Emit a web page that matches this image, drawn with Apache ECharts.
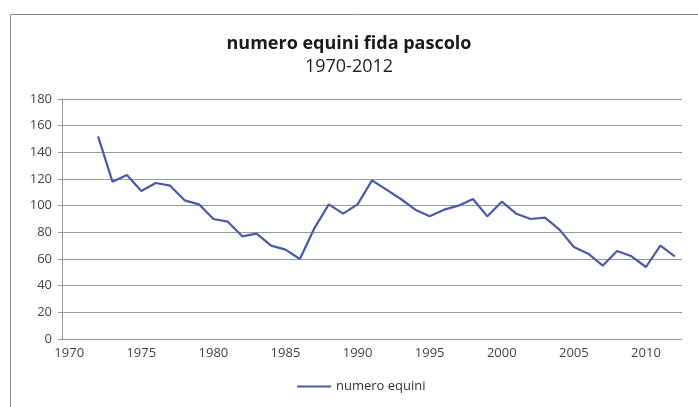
<!DOCTYPE html>
<html>
<head>
<meta charset="utf-8">
<script src="https://cdn.jsdelivr.net/npm/echarts@6/dist/echarts.min.js"></script>
<style>
html, body { margin: 0; padding: 0; background: #fff; }
#main { width: 698px; height: 407px; }
</style>
</head>
<body>
<div id="main"></div>
<script>
// anni 1970-2012, primi due senza dati
var years = [];
for (var y = 1970; y <= 2012; y++) years.push(String(y));

var equini = [null, null,
    152, 118, 123, 111, 117, 115, 104, 101, 90,
    88, 77, 79, 70, 67, 60, 83, 101, 94, 101,
    119, 112, 105, 97, 92, 97, 100, 105, 92, 103,
    94, 90, 91, 82, 69, 64, 55, 66, 62, 54,
    70, 62];

var yTicks = { min: 0, max: 180, interval: 20 };

var font = '"Open Sans", "Liberation Sans", sans-serif';

var myChart = echarts.init(document.getElementById('main'));

myChart.setOption({
    backgroundColor: '#fff',
    animation: false,
    title: {
        text: 'numero equini fida pascolo',
        subtext: '1970-2012',
        left: 'center',
        top: 30,
        itemGap: 5,
        textStyle: { fontFamily: font, fontSize: 18, fontWeight: 'bold', color: '#1a1a1a' },
        subtextStyle: { fontFamily: font, fontSize: 18, color: '#222' }
    },
    legend: {
        bottom: 9,
        left: 292,
        itemWidth: 34,
        itemHeight: 2,
        itemGap: 4,
        icon: 'rect',
        textStyle: { fontFamily: font, fontSize: 13, color: '#333' },
        data: ['numero equini']
    },
    graphic: [{
        type: 'rect',
        shape: { x: 10.5, y: 14.5, width: 720, height: 420 },
        style: { fill: null, stroke: '#888', lineWidth: 1 }
    }],
    grid: { left: 62, right: 16, top: 99, bottom: 68 },
    xAxis: {
        type: 'category',
        data: years,
        boundaryGap: true,
        axisLine: { lineStyle: { color: '#999' } },
        axisTick: { interval: 0, length: 4, lineStyle: { color: '#999' } },
        axisLabel: { interval: 4, fontFamily: font, fontSize: 13, color: '#444', margin: 8 }
    },
    yAxis: {
        type: 'value',
        min: yTicks.min,
        max: yTicks.max,
        interval: yTicks.interval,
        axisLine: { show: true, lineStyle: { color: '#999' } },
        axisTick: { show: true, length: 4, lineStyle: { color: '#999' } },
        axisLabel: { fontFamily: font, fontSize: 13, color: '#444', margin: 10 },
        splitLine: { lineStyle: { color: '#999', width: 1 } }
    },
    series: [{
        name: 'numero equini',
        type: 'line',
        data: equini,
        showSymbol: false,
        symbol: 'none',
        connectNulls: false,
        lineStyle: { color: '#4a5aab', width: 2.2 },
        itemStyle: { color: '#4a5aab' }
    }]
});
</script>
</body>
</html>
